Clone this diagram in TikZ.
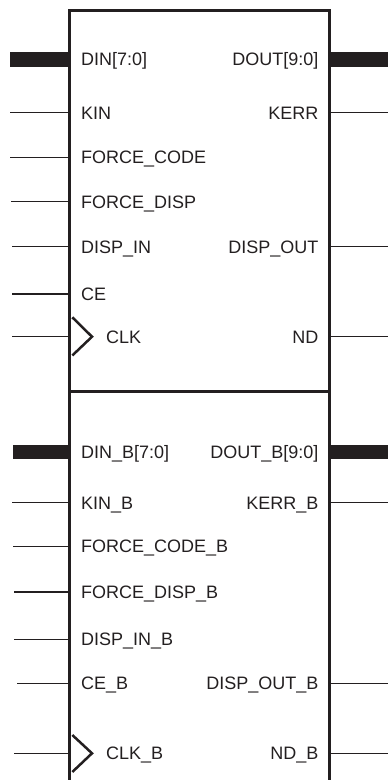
\documentclass[tikz,border=0pt]{standalone}
\usepackage{fontspec}
\setmainfont{Liberation Sans}
\definecolor{ink}{HTML}{231F20}
\tikzset{
  pinlbl/.style={inner sep=0pt, text height=12.9pt, text depth=0pt, text=ink, font=\fontsize{18}{21}\selectfont},
  inlbl/.style={pinlbl, anchor=west},
  outlbl/.style={pinlbl, anchor=east},
  wire/.style={draw=ink, line width=1.2pt},
  bus/.style={draw=ink, line width=14.5pt},
  outline/.style={draw=ink, line width=3pt},
  clkmark/.style={draw=ink, line width=2.5pt}
}
\begin{document}
\begin{tikzpicture}[x=1pt,y=-1pt]
            \useasboundingbox (0,0) rectangle (388,780);
            % block outline, open at the bottom
            \coordinate (tl) at (69.5,10);
            \coordinate (tr) at (329.7,10);
            \coordinate (bl) at (69.5,795);
            \coordinate (br) at (329.7,795);
            \coordinate (ml) at (69.5,391.5);
            \coordinate (mr) at (329.7,391.5);
            \draw [outline] (bl) -- (tl) -- (tr) -- (br);
            \draw [outline] (ml) -- (mr);
            % upper half, inputs
            \node [inlbl] (din) at (81,59.3) {DIN[7:0]};
            \node [inlbl] (kin) at (81,112.7) {KIN};
            \node [inlbl] (fcode) at (81,157.3) {FORCE\_CODE};
            \node [inlbl] (fdisp) at (81,201.8) {FORCE\_DISP};
            \node [inlbl] (dispin) at (81,246.7) {DISP\_IN};
            \node [inlbl] (ce) at (81,294) {CE};
            \node [inlbl] (clk) at (106,336.7) {CLK};
            \coordinate (dinx) at (10,59.3);
            \coordinate (kinx) at (10,112.7);
            \coordinate (fcodex) at (10,157.3);
            \coordinate (fdispx) at (11,201.8);
            \coordinate (dispinx) at (12,246.7);
            \coordinate (cex) at (12,294);
            \coordinate (clkx) at (12,336.7);
            \draw [bus] (dinx) -- (dinx -| tl);
            \draw [wire] (kinx) -- (kinx -| tl);
            \draw [wire] (fcodex) -- (fcodex -| tl);
            \draw [wire] (fdispx) -- (fdispx -| tl);
            \draw [wire] (dispinx) -- (dispinx -| tl);
            \draw [wire] (cex) -- (cex -| tl);
            \draw [wire] (clkx) -- (clkx -| tl);
            \draw [clkmark] (72.3,317.3) -- (92,336.7) -- (72.3,355.5);
            % upper half, outputs
            \node [outlbl] (dout) at (318.5,59.3) {DOUT[9:0]};
            \node [outlbl] (kerr) at (318.5,112.7) {KERR};
            \node [outlbl] (dispout) at (318.5,246.7) {DISP\_OUT};
            \node [outlbl] (nd) at (318.5,336.7) {ND};
            \coordinate (doutx) at (388,59.3);
            \coordinate (kerrx) at (388,112.7);
            \coordinate (dispoutx) at (388,246.7);
            \coordinate (ndx) at (388,336.7);
            \draw [bus] (doutx -| tr) -- (doutx);
            \draw [wire] (kerrx -| tr) -- (kerrx);
            \draw [wire] (dispoutx -| tr) -- (dispoutx);
            \draw [wire] (ndx -| tr) -- (ndx);
            % lower half, inputs
            \node [inlbl] (dinb) at (81,452.2) {DIN\_B[7:0]};
            \node [inlbl] (kinb) at (81,502.7) {KIN\_B};
            \node [inlbl] (fcodeb) at (81,546.3) {FORCE\_CODE\_B};
            \node [inlbl] (fdispb) at (81,592) {FORCE\_DISP\_B};
            \node [inlbl] (dispinb) at (81,639.3) {DISP\_IN\_B};
            \node [inlbl] (ceb) at (81,683.3) {CE\_B};
            \node [inlbl] (clkb) at (106,753.3) {CLK\_B};
            \coordinate (dinbx) at (13,452.2);
            \coordinate (kinbx) at (12,502.7);
            \coordinate (fcodebx) at (13,546.3);
            \coordinate (fdispbx) at (14,592);
            \coordinate (dispinbx) at (14,639.3);
            \coordinate (cebx) at (17,683.3);
            \coordinate (clkbx) at (14,753.3);
            \draw [bus] (dinbx) -- (dinbx -| ml);
            \draw [wire] (kinbx) -- (kinbx -| ml);
            \draw [wire] (fcodebx) -- (fcodebx -| ml);
            \draw [wire] (fdispbx) -- (fdispbx -| ml);
            \draw [wire] (dispinbx) -- (dispinbx -| ml);
            \draw [wire] (cebx) -- (cebx -| ml);
            \draw [wire] (clkbx) -- (clkbx -| ml);
            \draw [clkmark] (72.3,735) -- (92,753.3) -- (72.3,772);
            % lower half, outputs
            \node [outlbl] (doutb) at (318.5,452.2) {DOUT\_B[9:0]};
            \node [outlbl] (kerrb) at (318.5,502.7) {KERR\_B};
            \node [outlbl] (dispoutb) at (318.5,683.3) {DISP\_OUT\_B};
            \node [outlbl] (ndb) at (318.5,753.3) {ND\_B};
            \coordinate (doutbx) at (388,452.2);
            \coordinate (kerrbx) at (388,502.7);
            \coordinate (dispoutbx) at (388,683.3);
            \coordinate (ndbx) at (388,753.3);
            \draw [bus] (doutbx -| mr) -- (doutbx);
            \draw [wire] (kerrbx -| mr) -- (kerrbx);
            \draw [wire] (dispoutbx -| mr) -- (dispoutbx);
            \draw [wire] (ndbx -| mr) -- (ndbx);
\end{tikzpicture}
\end{document}
